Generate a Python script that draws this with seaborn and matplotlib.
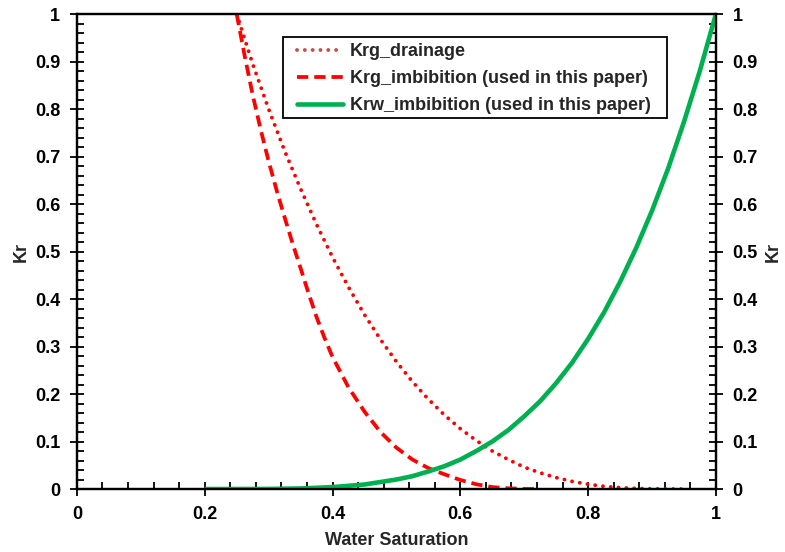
import matplotlib
matplotlib.use("Agg")
import matplotlib.pyplot as plt
import seaborn as sns
import pandas as pd
from matplotlib.lines import Line2D
from matplotlib.patches import Rectangle
from matplotlib.ticker import MultipleLocator, FuncFormatter

# ---- data ----
sw_drain = [0.25, 0.275, 0.30, 0.325, 0.35, 0.375, 0.40, 0.425, 0.45, 0.475,
            0.50, 0.525, 0.55, 0.575, 0.60, 0.625, 0.65, 0.675, 0.70, 0.725,
            0.75, 0.775, 0.80, 0.825, 0.85, 0.875, 0.90, 0.925, 0.95]
krg_drain = [1.0, 0.895, 0.80, 0.712, 0.632, 0.557, 0.488, 0.425, 0.367, 0.315,
             0.268, 0.226, 0.189, 0.156, 0.127, 0.102, 0.080, 0.062, 0.046, 0.034,
             0.024, 0.016, 0.010, 0.0055, 0.0028, 0.0012, 0.0004, 0.0001, 0.0]

sw_imb = [0.25, 0.2625, 0.275, 0.2875, 0.30, 0.3125, 0.325, 0.3375, 0.35, 0.3625,
          0.375, 0.3875, 0.40, 0.425, 0.45, 0.475,
          0.50, 0.525, 0.55, 0.575, 0.60, 0.625, 0.65, 0.675, 0.70, 0.72]
krg_imb = [1.0, 0.912, 0.83, 0.757, 0.69, 0.629, 0.572, 0.517, 0.465, 0.412,
           0.362, 0.318, 0.278, 0.214, 0.163, 0.120,
           0.087, 0.062, 0.044, 0.031, 0.019, 0.010, 0.004, 0.0015, 0.0003, 0.0]

sw_w = [0.20, 0.25, 0.30, 0.35, 0.40, 0.45, 0.50, 0.525, 0.55, 0.575, 0.60,
        0.625, 0.65, 0.675, 0.70, 0.725, 0.75, 0.775, 0.80, 0.825, 0.85,
        0.875, 0.90, 0.925, 0.95, 0.975, 1.00]
krw_imb = [0.0, 0.0, 0.0002, 0.0012, 0.004, 0.0095, 0.020, 0.027, 0.037, 0.048,
           0.062, 0.080, 0.100, 0.124, 0.153, 0.185, 0.223, 0.266, 0.316, 0.372,
           0.436, 0.507, 0.586, 0.674, 0.773, 0.881, 1.0]

labels = ["Krg_drainage", "Krg_imbibition (used in this paper)",
          "Krw_imbibition (used in this paper)"]
x_label = "Water Saturation"
y_label = "Kr"

# ---- style ----
sns.set_style("white")
plt.rcParams["font.family"] = ["Liberation Sans", "DejaVu Sans"]
plt.rcParams["font.weight"] = "bold"
plt.rcParams["axes.labelweight"] = "bold"

FS = 13

fig = plt.figure(figsize=(7.85, 5.52), dpi=100)
ax = fig.add_axes([0.098, 0.1141, 0.814, 0.8605])

df_d = pd.DataFrame({"sw": sw_drain, "kr": krg_drain})
df_i = pd.DataFrame({"sw": sw_imb, "kr": krg_imb})
df_w = pd.DataFrame({"sw": sw_w, "kr": krw_imb})

sns.lineplot(data=df_d, x="sw", y="kr", ax=ax, color="#FF0000", lw=2.8,
             estimator=None, sort=False)
sns.lineplot(data=df_i, x="sw", y="kr", ax=ax, color="#FF0000", lw=2.7,
             estimator=None, sort=False)
sns.lineplot(data=df_w, x="sw", y="kr", ax=ax, color="#00B050", lw=3.3,
             estimator=None, sort=False)
l_d, l_i, l_w = ax.get_lines()[:3]
l_d.set_linestyle((0, (0.01, 2.0)))
l_d.set_dash_capstyle("round")
l_i.set_linestyle((0, (3.0, 1.6)))
l_i.set_dash_capstyle("butt")
l_w.set_solid_capstyle("butt")

fmt = FuncFormatter(lambda v, p: "%g" % round(v, 2))

def style_axis(a):
    a.set_xlim(0, 1)
    a.set_ylim(0, 1)
    a.yaxis.set_major_locator(MultipleLocator(0.1))
    a.yaxis.set_minor_locator(MultipleLocator(0.02))
    a.yaxis.set_major_formatter(fmt)
    a.tick_params(axis="y", which="major", direction="inout", length=10,
                  width=1.3, labelsize=FS, pad=7, colors="black")
    a.tick_params(axis="y", which="minor", direction="in", length=5,
                  width=1.3, colors="black")
    for s in a.spines.values():
        s.set_color("black")
        s.set_linewidth(1.6)

style_axis(ax)
ax.xaxis.set_major_locator(MultipleLocator(0.2))
ax.xaxis.set_minor_locator(MultipleLocator(0.04))
ax.xaxis.set_major_formatter(fmt)
ax.tick_params(axis="x", which="major", direction="inout", length=10,
               width=1.3, labelsize=FS, pad=7, colors="black", top=False)
ax.tick_params(axis="x", which="minor", direction="in", length=5,
               width=1.3, colors="black", top=False)
ax.tick_params(axis="y", left=True, right=False, which="both")
ax.tick_params(axis="x", bottom=True, which="both")
ax.set_xlabel(x_label, fontsize=FS, fontweight="bold", labelpad=7)
ax.set_ylabel(y_label, fontsize=FS, fontweight="bold", labelpad=4)

tw = ax.twinx()
style_axis(tw)
tw.set_ylabel(y_label, fontsize=FS, fontweight="bold", labelpad=5)
tw.tick_params(axis="x", which="both", bottom=False, top=False,
               labelbottom=False)

for lab in ax.get_xticklabels() + ax.get_yticklabels() + tw.get_yticklabels():
    lab.set_fontweight("bold")

handles = [
    Line2D([], [], color="#C0504D", lw=2.8, linestyle=(0, (0.01, 2.0)),
           dash_capstyle="round"),
    Line2D([], [], color="#FF0000", lw=2.7, linestyle=(0, (3.0, 1.6))),
    Line2D([], [], color="#00B050", lw=3.3),
]
# legend frame (wider horizontal padding than matplotlib's uniform borderpad)
ax.add_patch(Rectangle((0.3224, 0.7811), 0.6009, 0.1705, transform=ax.transAxes,
                       facecolor="white", edgecolor="black", lw=1.3, zorder=4))
leg = ax.legend(handles, labels, loc="upper left", bbox_to_anchor=(0.3443, 0.938),
                frameon=False, prop={"size": FS, "weight": "bold"},
                handlelength=2.55, handletextpad=0.4, labelspacing=0.55,
                borderpad=0, borderaxespad=0)
leg.set_zorder(5)
ax.set_zorder(tw.get_zorder() + 1)
ax.patch.set_visible(False)

fig.savefig("out.png", dpi=100)
